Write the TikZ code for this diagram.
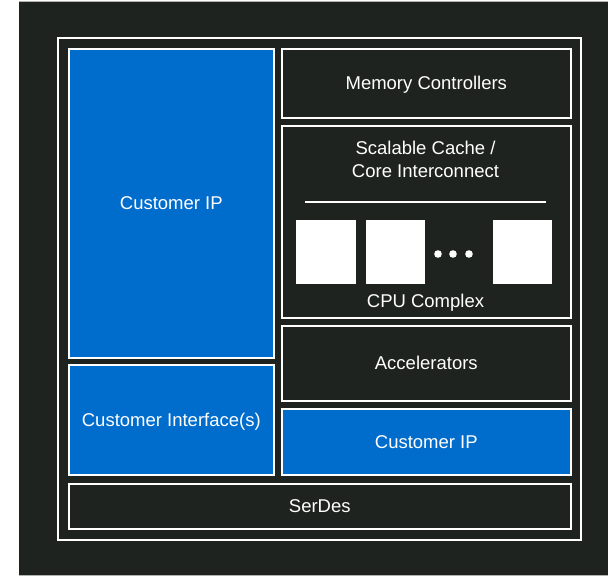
\documentclass[tikz,border=0pt]{standalone}
\usepackage{fontspec}
\setmainfont{Liberation Sans}
\definecolor{chipbg}{RGB}{30,35,32}
\definecolor{ipblue}{RGB}{0,108,204}
\tikzset{
  blk/.style={draw=white, line width=1.6pt, fill=chipbg, text=white, inner sep=0pt,
    anchor=north west, text height=13.3pt, text depth=0pt, font=\fontsize{18.5}{22}\selectfont},
  ip/.style={blk, fill=ipblue},
  lbl/.style={text=white, inner sep=0pt, anchor=base, font=\fontsize{18.5}{22}\selectfont},
  core/.style={fill=white, inner sep=0pt, anchor=north west, minimum height=64}
}
\begin{document}
\begin{tikzpicture}[x=1pt, y=-1pt]
\useasboundingbox (0,0) rectangle (608,577);
\fill[chipbg] (19,1) rectangle (608,575);
\draw[gray!60, line width=.8pt] (19,1) -- (608,1);
\draw[gray!60, line width=.8pt] (19,575) -- (608,575);
% outer frame
\node[draw=white, line width=1.6pt, inner sep=0pt, anchor=north west, minimum width=523, minimum height=502] (frame) at (57,37) {};
% left column
\node[ip, minimum width=205, minimum height=309] (ipbig) at (68,48) {Customer IP};
\node[ip, minimum width=205, minimum height=110] (iface) at (68,364) {Customer Interface(s)};
% right column
\node[blk, minimum width=289, minimum height=69] (mem) at (281,48) {Memory Controllers};
\node[blk, minimum width=289, minimum height=192] (cache) at (281,125) {};
\node[blk, minimum width=289, minimum height=75] (accel) at (281,325) {Accelerators};
\node[ip, minimum width=289, minimum height=66] (ipsmall) at (281,408) {Customer IP};
\node[blk, minimum width=502, minimum height=45] (serdes) at (68,483) {SerDes};
% cpu complex
\node[lbl] (cachea) at (425.5,155) {Scalable Cache /};
\node[lbl] (cacheb) at (425.5,178) {Core Interconnect};
\coordinate (busl) at (305,202);
\coordinate (busr) at (546,202);
\draw[white, line width=1.5pt] (busl) -- (busr);
\foreach \x/\w/\n in {296/60/a, 366/59/b, 493/59/n} {
  \node[core, minimum width=\w] (core\n) at (\x,220) {};
}
\foreach \x in {438,453,469} {
  \fill[white] (\x,254) circle (3.8);
}
\node[lbl] (cpu) at (425.5,308) {CPU Complex};
\end{tikzpicture}
\end{document}
